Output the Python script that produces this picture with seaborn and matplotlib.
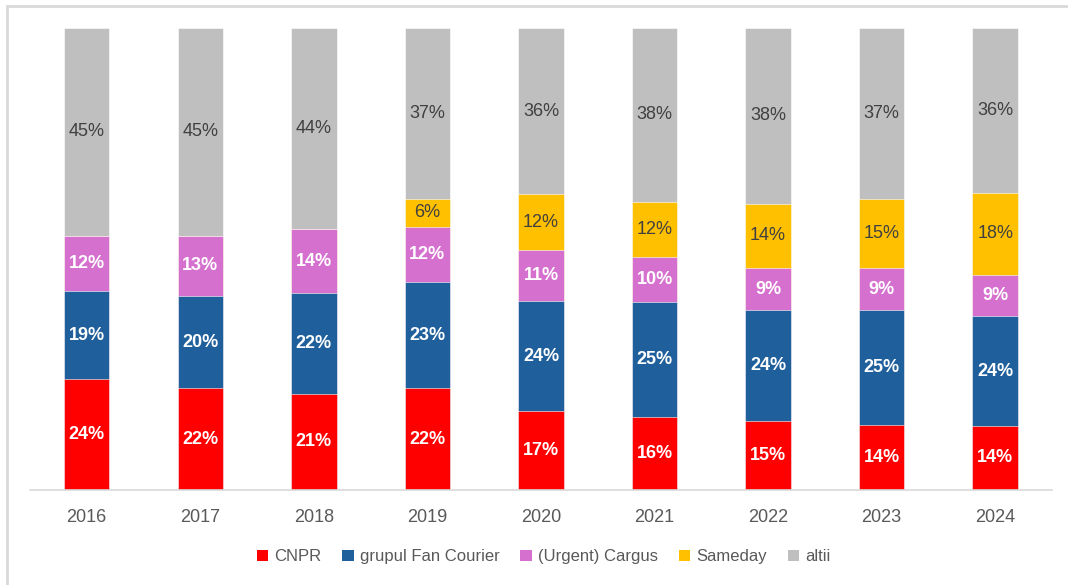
import numpy as np
import pandas as pd
import seaborn as sns
import matplotlib.pyplot as plt
from matplotlib.patches import Patch, Rectangle

years = ['2016', '2017', '2018', '2019', '2020', '2021', '2022', '2023', '2024']
cnpr = [24, 22, 21, 22, 17, 16, 15, 14, 14]
fan_courier = [19, 20, 22, 23, 24, 25, 24, 25, 24]
cargus = [12, 13, 14, 12, 11, 10, 9, 9, 9]
sameday = [0, 0, 0, 6, 12, 12, 14, 15, 18]
altii = [45, 45, 44, 37, 36, 38, 38, 37, 36]

series_names = ['CNPR', 'grupul Fan Courier', '(Urgent) Cargus', 'Sameday', 'altii']
series_values = [cnpr, fan_courier, cargus, sameday, altii]
colors = ['#FF0000', '#1F5F9B', '#D670CF', '#FFC000', '#BFBFBF']
label_colors = ['white', 'white', 'white', '#404040', '#404040']
label_weights = ['bold', 'bold', 'bold', 'normal', 'normal']

sns.set_theme(style='white')
plt.rcParams['font.family'] = ['Liberation Sans', 'DejaVu Sans']

# Shares normalised per year, so every bar reaches 100%
vals = np.array(series_values, dtype=float)
shares = vals / vals.sum(axis=0)
cum = shares.cumsum(axis=0)

fig = plt.figure(figsize=(10.68, 5.85), dpi=100)
ax = fig.add_axes([0.028, 0.1624, 0.957, 0.7898])

# Draw cumulative totals from top layer down so each layer overlays the next
for i in reversed(range(len(series_names))):
    df = pd.DataFrame({'year': years, 'cum': cum[i]})
    sns.barplot(data=df, x='year', y='cum', color=colors[i], width=0.4,
                saturation=1, edgecolor='white', linewidth=0.4, ax=ax)

# Segment labels
for i, name in enumerate(series_names):
    for j, year in enumerate(years):
        if series_values[i][j] == 0:
            continue
        ymid = cum[i][j] - shares[i][j] / 2
        ax.text(j, ymid, f'{series_values[i][j]}%', ha='center', va='center',
                fontsize=13, color=label_colors[i], fontweight=label_weights[i])

ax.set_ylim(0, 1)
ax.set_xlim(-0.5, len(years) - 0.5)
ax.set_xlabel('')
ax.set_ylabel('')
ax.set_yticks([])
for side in ['left', 'right', 'top']:
    ax.spines[side].set_visible(False)
ax.spines['bottom'].set_color('#D9D9D9')
ax.spines['bottom'].set_linewidth(1.2)
ax.tick_params(axis='x', length=0, pad=14, labelsize=13, labelcolor='#595959')

handles = [Patch(facecolor=c, edgecolor='none', label=n) for c, n in zip(colors, series_names)]
fig.legend(handles=handles, loc='center', bbox_to_anchor=(0.509, 0.048), ncol=5,
           frameon=False, fontsize=12, labelcolor='#595959', handlelength=0.7,
           handleheight=0.7, handletextpad=0.35, columnspacing=1.25)

# Light frame around the chart
fig.patches.append(Rectangle((7 / 1068, -0.02), 1.1, 1.01,
                             transform=fig.transFigure, fill=False,
                             edgecolor='#D9D9D9', linewidth=2))

fig.savefig('out.png', dpi=100)
